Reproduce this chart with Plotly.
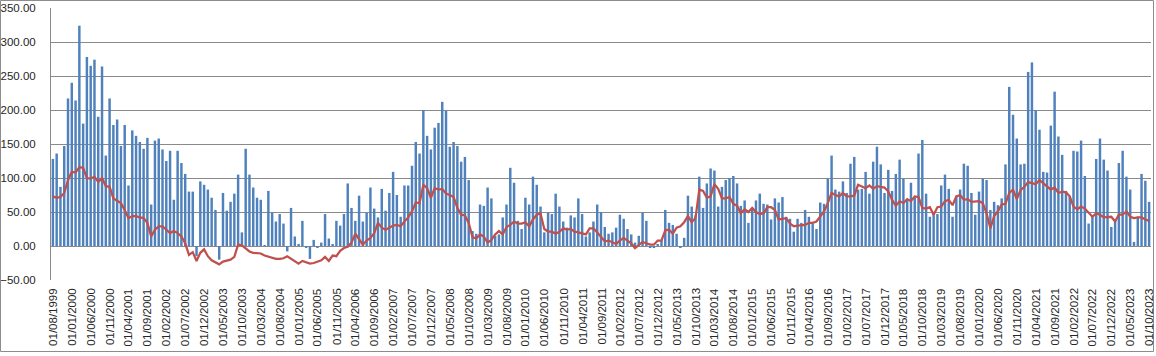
import pandas as pd
import plotly.graph_objects as go

months = list(pd.date_range("1999-08-01", periods=291, freq="MS").strftime("%d/%m/%Y"))

bar_values = [
    128, 136, 87, 147, 217, 240, 214, 324, 180, 278,
    265, 274, 190, 264, 133, 217, 178, 186, 147, 178,
    89, 170, 162, 153, 143, 159, 61, 155, 158, 142,
    125, 140, 68, 140, 122, 106, 80, 80, -15, 95,
    90, 83, 71, 53, -20, 78, 52, 65, 77, 105,
    20, 143, 105, 86, 71, 68, 1, 81, 49, 36,
    47, 33, -8, 56, 14, 3, 37, -3, -19, 9,
    -3, 5, 47, 11, 2, 37, 30, 47, 92, 56,
    37, 74, 36, 49, 86, 55, 42, 84, 52, 78,
    109, 75, 43, 89, 89, 118, 153, 136, 200, 162,
    142, 174, 181, 212, 199, 146, 153, 147, 124, 131,
    97, 22, 18, 61, 59, 86, 70, 15, 17, 42,
    61, 115, 93, 37, 25, 71, 61, 102, 90, 58,
    20, 49, 47, 77, 58, 36, 27, 45, 42, 70,
    47, 14, 20, 36, 61, 50, 28, 18, 20, 27,
    46, 40, 25, 17, 5, 15, 49, 37, -2, -2,
    3, 9, 53, 34, 31, 18, -2, 12, 74, 58,
    45, 102, 56, 92, 114, 111, 58, 87, 97, 100,
    103, 92, 59, 67, 34, 56, 67, 77, 62, 61,
    39, 70, 64, 72, 43, 40, 21, 40, 34, 53,
    43, 33, 25, 64, 62, 99, 133, 83, 80, 95,
    78, 121, 131, 83, 84, 109, 77, 124, 146, 120,
    78, 112, 81, 106, 127, 99, 68, 93, 71, 136,
    156, 77, 43, 47, 47, 89, 105, 84, 43, 74,
    83, 121, 118, 78, 46, 80, 99, 97, 53, 65,
    60, 70, 120, 234, 193, 158, 120, 121, 256, 270,
    200, 171, 109, 108, 177, 227, 161, 134, 81, 73,
    140, 139, 155, 103, 33, 45, 128, 158, 127, 111,
    28, 39, 122, 140, 102, 83, 6, 43, 106, 96,
    65,
]

line_values = [
    73, 71, 72, 78, 97, 109, 108, 116, 115, 100,
    99, 102, 94, 100, 88, 87, 70, 67, 63, 53,
    41, 44, 44, 42, 41, 34, 14, 24, 29, 29,
    24, 19, 22, 19, 14, 4, -13, -9, -22, -10,
    -5, -15, -21, -24, -27, -23, -22, -20, -16, 2,
    1, -4, -8, -10, -11, -11, -14, -16, -18, -19,
    -19, -18, -15, -19, -23, -26, -22, -24, -26, -25,
    -23, -21, -16, -22, -14, -15, -7, -3, -1, 5,
    18, 10, 2, 8, 12, 19, 34, 27, 24, 27,
    30, 31, 29, 36, 42, 51, 64, 63, 90, 85,
    71, 85, 83, 84, 77, 75, 72, 56, 46, 45,
    34, 13, 11, 17, 14, 5, 9, 17, 22, 17,
    28, 31, 36, 33, 33, 35, 29, 39, 46, 48,
    25, 21, 21, 18, 21, 26, 24, 25, 21, 20,
    18, 17, 26, 26, 20, 13, 7, 8, 6, 3,
    8, 12, 8, 4, -3, 2, 6, 4, 2, 2,
    8, 8, 23, 24, 18, 27, 29, 35, 44, 35,
    41, 83, 81, 71, 73, 91, 84, 70, 70, 72,
    62, 59, 48, 54, 50, 56, 50, 47, 48, 57,
    57, 53, 39, 40, 41, 33, 29, 30, 31, 31,
    34, 34, 36, 44, 51, 63, 78, 75, 73, 78,
    73, 73, 74, 90, 88, 85, 89, 84, 88, 87,
    86, 80, 68, 59, 66, 63, 69, 66, 73, 72,
    56, 55, 57, 46, 57, 58, 66, 68, 60, 73,
    75, 68, 69, 65, 65, 66, 63, 48, 26, 44,
    51, 61, 62, 78, 83, 69, 82, 87, 94, 92,
    91, 97, 92, 88, 83, 86, 78, 80, 79, 73,
    58, 54, 58, 55, 49, 43, 48, 46, 42, 42,
    43, 36, 46, 46, 51, 43, 41, 42, 42, 39,
    37,
]

tick_labels = months[::5]

W, H = 1156, 356
ML, MR, MT, MB = 51, 5, 8, 76
pw = W - ML - MR
ph = H - MT - MB
n = len(months)

fig = go.Figure()
fig.add_trace(go.Bar(x=months, y=bar_values, marker=dict(color="#4F81BD", line=dict(width=0)),
                     showlegend=False, hoverinfo="skip"))
fig.add_trace(go.Scatter(x=months, y=line_values, mode="lines",
                         line=dict(color="#C0504D", width=2.25), showlegend=False,
                         hoverinfo="skip"))

font = dict(family="Liberation Sans, Arial, sans-serif", size=11.5, color="#262626")
xfont = dict(family="Liberation Sans, Arial, sans-serif", size=11.5, color="#262626")

# category-axis labels, rotated and centred on their category
for lab in tick_labels:
    fig.add_annotation(x=lab, xref="x", y=0, yref="paper", text=lab, textangle=-90,
                       xanchor="center", yanchor="top", yshift=-7, showarrow=False,
                       font=xfont, borderpad=0)

fig.update_layout(
    width=W, height=H,
    margin=dict(l=ML, r=MR, t=MT, b=MB, pad=0, autoexpand=False),
    paper_bgcolor="white", plot_bgcolor="white",
    bargap=0.35,
    font=font,
    hovermode=False,
    xaxis=dict(type="category", categoryorder="array", categoryarray=months,
               showticklabels=False, showgrid=False, showline=False, zeroline=False,
               range=[-0.5, n - 0.5], ticks="", automargin=False),
    yaxis=dict(range=[-50, 350], dtick=50, tickformat=".2f", showgrid=True,
               gridcolor="#8a8a8a", gridwidth=1, zeroline=True, zerolinecolor="#8a8a8a",
               zerolinewidth=1, showline=True, linecolor="#8a8a8a", linewidth=1,
               tickfont=font, ticks="", ticklabelstandoff=12, automargin=False),
)

# outer chart border
x0 = (0.5 - ML) / pw
x1 = (1153.5 - ML) / pw
y0 = (H - MB - 351.5) / ph
y1 = (H - MB - 0.5) / ph
fig.add_shape(type="rect", xref="paper", yref="paper", x0=x0, x1=x1, y0=y0, y1=y1,
              line=dict(color="#8c8c8c", width=1), fillcolor="rgba(0,0,0,0)", layer="above")

fig.write_html("out.html", config={"displayModeBar": False},
               post_script="document.body.style.margin='0';")
